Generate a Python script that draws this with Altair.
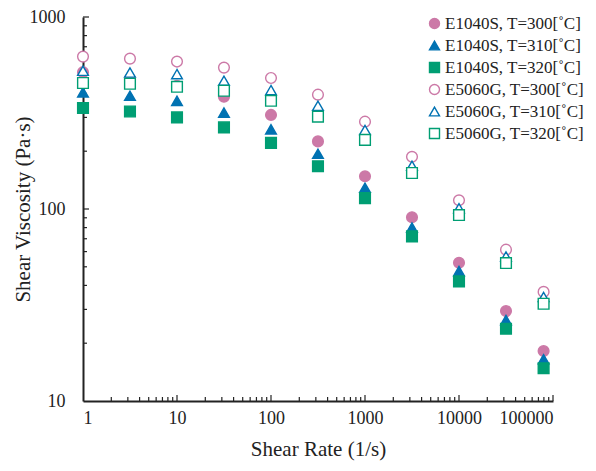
import altair as alt
import pandas as pd

shear_rate = [1, 3.16, 10, 31.6, 100, 316, 1000, 3162, 10000, 31623, 79433]

series_names = [
    "E1040S, T=300[˚C]",
    "E1040S, T=310[˚C]",
    "E1040S, T=320[˚C]",
    "E5060G, T=300[˚C]",
    "E5060G, T=310[˚C]",
    "E5060G, T=320[˚C]",
]

e1040s_300 = [516, 476, 438, 384, 309, 225, 148, 90.6, 52.5, 29.4, 18.2]
e1040s_310 = [405, 389, 366, 318, 260, 194, 129, 80, 47.5, 26.4, 16.5]
e1040s_320 = [336, 322, 300, 266, 221, 167, 114, 72, 42, 23.8, 14.8]
e5060g_300 = [622, 607, 586, 545, 481, 394, 285, 187, 111, 61.4, 37]
e5060g_310 = [525, 514, 504, 466, 416, 345, 258, 168, 101, 56.6, 34.8]
e5060g_320 = [453, 449, 433, 413, 366, 303, 229, 154, 93, 52.3, 32.1]

x_major = [1, 10, 100, 1000, 10000, 100000]
y_major = [10, 100, 1000]
x_minor = [m * 10 ** k for k in range(5) for m in range(2, 10)]
y_minor = [m * 10 ** k for k in range(1, 3) for m in range(2, 10)]

colors = ["#CC79A7", "#0072B2", "#009E73", "#CC79A7", "#0072B2", "#009E73"]
fills = ["#CC79A7", "#0072B2", "#009E73", "white", "white", "white"]
shapes = ["circle", "triangle-up", "square", "circle", "triangle-up", "square"]

all_series = [e1040s_300, e1040s_310, e1040s_320, e5060g_300, e5060g_310, e5060g_320]
rows = []
for name, vals in zip(series_names, all_series):
    for x, v in zip(shear_rate, vals):
        rows.append({"series": name, "rate": x, "visc": v})
df = pd.DataFrame(rows)

FONT = "Liberation Serif"
W, H = 470, 384

xscale = alt.Scale(type="log", domain=[1, 100000], nice=False)
yscale = alt.Scale(type="log", domain=[10, 1000], nice=False)

points = alt.Chart(df).mark_point(filled=False, size=115, strokeWidth=1.4, opacity=1).encode(
    x=alt.X("rate:Q", scale=xscale,
            axis=alt.Axis(title="Shear Rate (1/s)", values=x_major, format="d",
                          grid=False, ticks=False, domainColor="#222", domainWidth=2,
                          labelFont=FONT, labelFontSize=18, labelColor="#222",
                          labelPadding=8, titleFont=FONT, titleFontSize=21,
                          titleFontWeight="normal", titleColor="#222", titlePadding=11)),
    y=alt.Y("visc:Q", scale=yscale,
            axis=alt.Axis(title="Shear Viscosity (Pa·s)", values=y_major, format="d",
                          grid=False, ticks=False, domainColor="#222", domainWidth=2,
                          labelFont=FONT, labelFontSize=18, labelColor="#222",
                          labelPadding=18, titleFont=FONT, titleFontSize=21,
                          titleFontWeight="normal", titleColor="#222",
                          titleX=-50, titleY=H / 2)),
    color=alt.Color("series:N", scale=alt.Scale(domain=series_names, range=colors),
                    legend=alt.Legend(title=None)),
    fill=alt.Fill("series:N", scale=alt.Scale(domain=series_names, range=fills),
                  legend=alt.Legend(title=None)),
    shape=alt.Shape("series:N", scale=alt.Scale(domain=series_names, range=shapes),
                    legend=alt.Legend(title=None)),
)

xmaj_df = pd.DataFrame({"v": x_major[1:]})
xmin_df = pd.DataFrame({"v": x_minor})
ymaj_df = pd.DataFrame({"v": y_major[1:]})
ymin_df = pd.DataFrame({"v": y_minor})

tick_color = "#222"
xt_major = alt.Chart(xmaj_df).mark_rule(color=tick_color, strokeWidth=1.2).encode(
    x=alt.X("v:Q", scale=xscale), y=alt.value(H), y2=alt.value(H - 6))
xt_minor = alt.Chart(xmin_df).mark_rule(color=tick_color, strokeWidth=1.2).encode(
    x=alt.X("v:Q", scale=xscale), y=alt.value(H), y2=alt.value(H - 4))
yt_major = alt.Chart(ymaj_df).mark_rule(color=tick_color, strokeWidth=1.2).encode(
    y=alt.Y("v:Q", scale=yscale), x=alt.value(0), x2=alt.value(6))
yt_minor = alt.Chart(ymin_df).mark_rule(color=tick_color, strokeWidth=1.2).encode(
    y=alt.Y("v:Q", scale=yscale), x=alt.value(0), x2=alt.value(4))

chart = alt.layer(xt_major, xt_minor, yt_major, yt_minor, points).properties(
    width=W, height=H,
    autosize=alt.AutoSizeParams(type="none"),
    padding={"left": 75, "top": 9, "right": 35, "bottom": 62},
).configure_view(stroke=None).configure_legend(
    orient="none", legendX=343, legendY=-2,
    labelFont=FONT, labelFontSize=17, labelColor="#222",
    symbolSize=100, symbolStrokeWidth=1.4, rowPadding=4, labelOffset=2,
    labelLimit=300,
)

chart.save("out.html", embed_options={"renderer": "svg", "actions": False})
